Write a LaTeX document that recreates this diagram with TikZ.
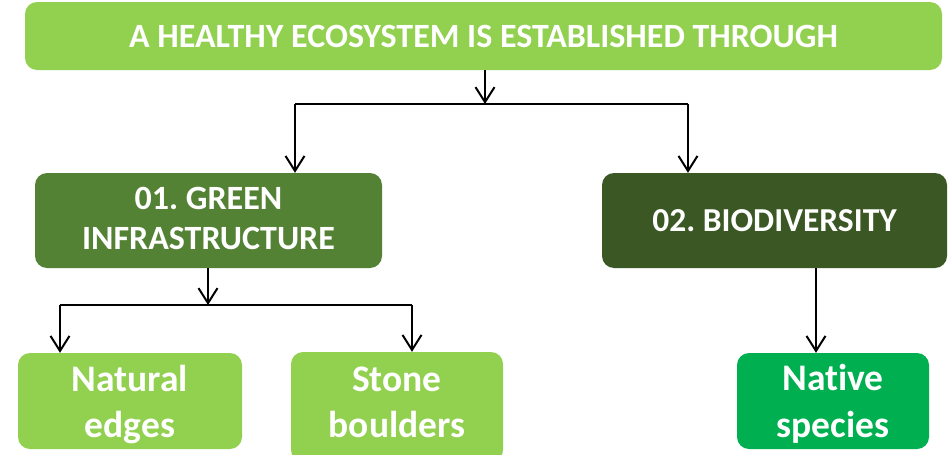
\documentclass[tikz,border=0pt]{standalone}
\usepackage{fontspec}
\setmainfont{Carlito}[Ligatures={NoCommon}]
\usetikzlibrary{arrows.meta}
\definecolor{lgreen}{HTML}{92D050}
\definecolor{mgreen}{HTML}{548235}
\definecolor{dgreen}{HTML}{3A5724}
\definecolor{bgreen}{HTML}{00B050}
\newcommand{\twolines}[3]{\raisebox{#3}[\height][\depth]{\begin{tabular}{@{}c@{}}#1\\#2\end{tabular}}}
\tikzset{
  box/.style={rectangle, rounded corners=12pt, draw=none, text=white, align=center, inner sep=0pt, font=\bfseries},
  conn/.style={line width=1.4pt, black},
  arr/.style={line width=2pt, black, -{Straight Barb[length=15pt,width=19pt,line width=2pt]}},
}
\begin{document}
\frenchspacing
\begin{tikzpicture}[x=1pt,y=-1pt]
\useasboundingbox (0,0) rectangle (948,455);
\clip (0,0) rectangle (948,455);
\node[box, fill=lgreen, minimum width=917pt, minimum height=68pt, font=\bfseries\fontsize{34}{40}\selectfont] (top) at (483.5,36) {A HEALTHY ECOSYSTEM IS ESTABLISHED THROUGH};
\node[box, fill=mgreen, minimum width=347pt, minimum height=95pt, font=\bfseries\fontsize{34}{40}\selectfont] (gi) at (208.5,220.5) {\twolines{01. GREEN}{INFRASTRUCTURE}{-1pt}};
\node[box, fill=dgreen, minimum width=345pt, minimum height=95pt, font=\bfseries\fontsize{33.5}{40}\selectfont] (bio) at (774.5,220.5) {02. BIODIVERSITY};
\node[box, fill=lgreen, minimum width=224pt, minimum height=96pt, font=\bfseries\fontsize{37.5}{46}\selectfont] (ne) at (130,401) {\twolines{Natural}{edges}{-4pt}};
\node[box, fill=lgreen, minimum width=212pt, minimum height=110pt, font=\bfseries\fontsize{37.5}{46}\selectfont] (sb) at (397,407) {\twolines{Stone}{boulders}{2pt}};
\node[box, fill=bgreen, minimum width=192pt, minimum height=96pt, font=\bfseries\fontsize{37.5}{47}\selectfont] (ns) at (833,401) {\twolines{Native}{species}{-4pt}};
\coordinate (j1) at (485,104);
\coordinate (jl) at (295,104);
\coordinate (jr) at (688,104);
\coordinate (j2) at (208,305);
\coordinate (kl) at (60,305);
\coordinate (kr) at (412,305);
\coordinate (b1) at (816,268);
\draw[arr] (top.south -| j1) -- (j1);
\draw[conn] (jl) -- (jr);
\draw[arr] (jl) -- (jl |- gi.north);
\draw[arr] (jr) -- (jr |- bio.north);
\draw[arr] (gi.south -| j2) -- (j2);
\draw[conn] (kl) -- (kr);
\draw[arr] (kl) -- (kl |- ne.north);
\draw[arr] (kr) -- (kr |- sb.north);
\draw[arr] (bio.south -| b1) -- (b1 |- ns.north);
\end{tikzpicture}
\end{document}
